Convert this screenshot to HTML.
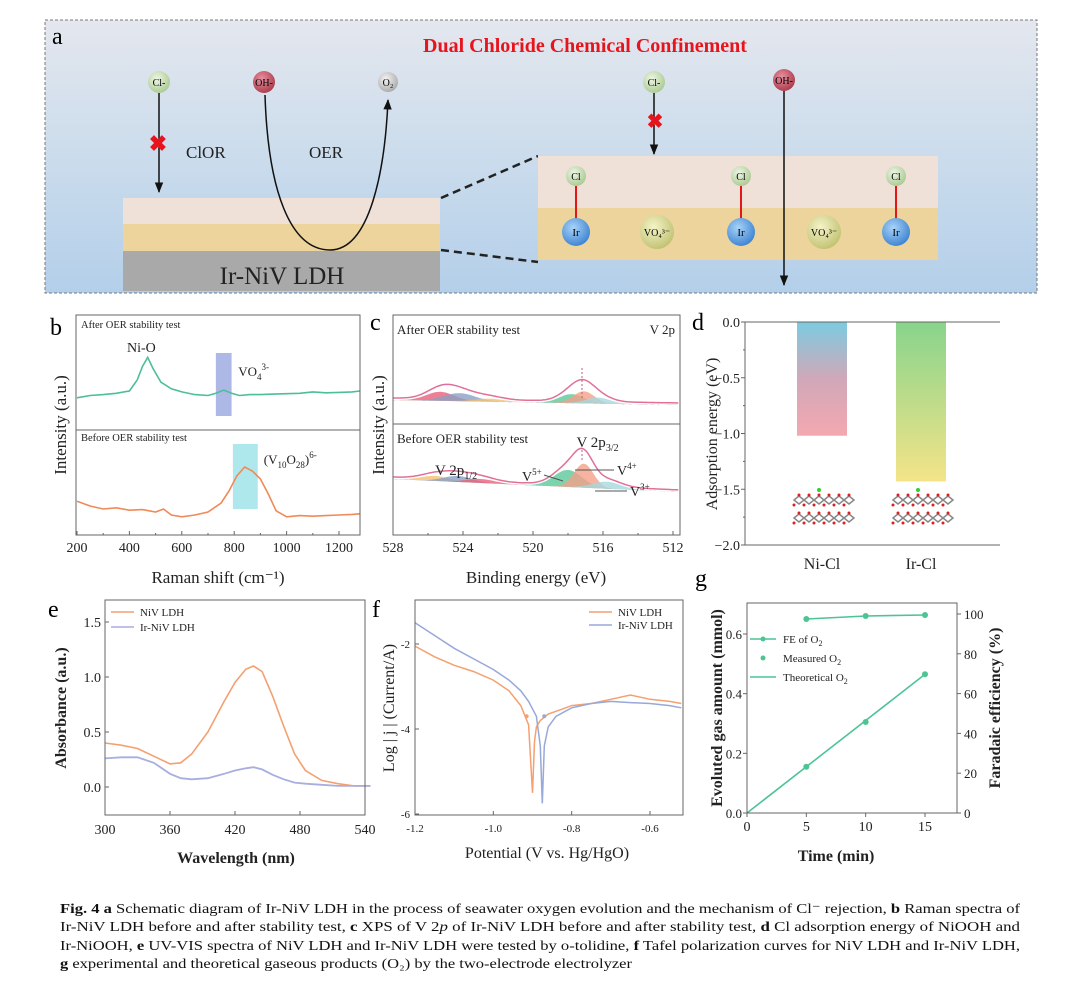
<!DOCTYPE html>
<html><head><meta charset="utf-8"><style>
html,body{margin:0;padding:0;background:#fff;}
svg{display:block;font-family:"Liberation Serif",serif;}
</style></head><body>
<svg id="fig" width="1080" height="981" viewBox="0 0 1080 981" xmlns="http://www.w3.org/2000/svg">
<defs>
<linearGradient id="bgA" x1="0" y1="0" x2="0" y2="1"><stop offset="0" stop-color="#e4e7ee"/><stop offset="0.5" stop-color="#cbdcec"/><stop offset="1" stop-color="#b4cfea"/></linearGradient>
<radialGradient id="gCl" cx="0.4" cy="0.35" r="0.7"><stop offset="0" stop-color="#eef6e4"/><stop offset="1" stop-color="#a8c890"/></radialGradient>
<radialGradient id="gOH" cx="0.4" cy="0.35" r="0.7"><stop offset="0" stop-color="#e890a0"/><stop offset="1" stop-color="#a83848"/></radialGradient>
<radialGradient id="gO2" cx="0.4" cy="0.35" r="0.7"><stop offset="0" stop-color="#f4f4f4"/><stop offset="1" stop-color="#a8a8a8"/></radialGradient>
<radialGradient id="gIr" cx="0.4" cy="0.35" r="0.7"><stop offset="0" stop-color="#a8d4f8"/><stop offset="1" stop-color="#3a80d0"/></radialGradient>
<radialGradient id="gVO" cx="0.4" cy="0.35" r="0.7"><stop offset="0" stop-color="#f4f4c8"/><stop offset="1" stop-color="#c0c070"/></radialGradient>
<linearGradient id="gNi" x1="0" y1="0" x2="0" y2="1"><stop offset="0" stop-color="#7ccbe0"/><stop offset="0.5" stop-color="#d0a8b8"/><stop offset="1" stop-color="#f4a8b0"/></linearGradient>
<linearGradient id="gIrB" x1="0" y1="0" x2="0" y2="1"><stop offset="0" stop-color="#88d48c"/><stop offset="1" stop-color="#f4e488"/></linearGradient>
<marker id="arr" viewBox="0 0 10 10" refX="9" refY="5" markerWidth="7" markerHeight="7" orient="auto"><path d="M0,1 L10,5 L0,9 z" fill="#111"/></marker>
</defs>

<!-- Panel a -->
<g>
<rect x="45" y="20" width="992" height="273" fill="url(#bgA)" stroke="#777" stroke-dasharray="3,2"/>
<text x="52" y="44" font-size="24">a</text>
<text x="585" y="52" font-size="20" font-weight="bold" fill="#e8141c" text-anchor="middle">Dual Chloride Chemical Confinement</text>
<rect x="123" y="198" width="317" height="26" fill="#efe0d8"/>
<rect x="123" y="224" width="317" height="27" fill="#ecd49c"/>
<rect x="123" y="251" width="317" height="40" fill="#a9a9a9"/>
<text x="282" y="284" font-size="25" text-anchor="middle" fill="#222">Ir-NiV LDH</text>
<line x1="159" y1="93" x2="159" y2="192" stroke="#111" stroke-width="1.5" marker-end="url(#arr)"/>
<text x="158" y="151" font-size="22" font-weight="bold" fill="#e8141c" text-anchor="middle">✖</text>
<text x="186" y="158" font-size="17" fill="#222">ClOR</text>
<path d="M265,95 C268,190 290,250 330,250 C370,250 385,170 388,100" fill="none" stroke="#111" stroke-width="1.5" marker-end="url(#arr)"/>
<text x="309" y="158" font-size="17" fill="#222">OER</text>
<circle cx="159" cy="82" r="11" fill="url(#gCl)"/><text x="159" y="86" font-size="10" text-anchor="middle">Cl-</text>
<circle cx="264" cy="82" r="11" fill="url(#gOH)"/><text x="264" y="86" font-size="10" text-anchor="middle">OH-</text>
<circle cx="388" cy="82" r="10" fill="url(#gO2)"/><text x="388" y="86" font-size="10" text-anchor="middle">O₂</text>
<line x1="441" y1="198" x2="538" y2="156" stroke="#222" stroke-width="2.5" stroke-dasharray="8,5"/>
<line x1="441" y1="250" x2="538" y2="262" stroke="#222" stroke-width="2.5" stroke-dasharray="8,5"/>
<rect x="538" y="156" width="400" height="52" fill="#efe0d8"/>
<rect x="538" y="208" width="400" height="52" fill="#ecd49c"/>
<g>
<line x1="576" y1="186" x2="576" y2="222" stroke="#e01818" stroke-width="2"/>
<line x1="741" y1="186" x2="741" y2="222" stroke="#e01818" stroke-width="2"/>
<line x1="896" y1="186" x2="896" y2="222" stroke="#e01818" stroke-width="2"/>
<circle cx="576" cy="176" r="10" fill="url(#gCl)"/><text x="576" y="180" font-size="10" text-anchor="middle">Cl</text>
<circle cx="741" cy="176" r="10" fill="url(#gCl)"/><text x="741" y="180" font-size="10" text-anchor="middle">Cl</text>
<circle cx="896" cy="176" r="10" fill="url(#gCl)"/><text x="896" y="180" font-size="10" text-anchor="middle">Cl</text>
<circle cx="576" cy="232" r="14" fill="url(#gIr)"/><text x="576" y="236" font-size="11" text-anchor="middle">Ir</text>
<circle cx="741" cy="232" r="14" fill="url(#gIr)"/><text x="741" y="236" font-size="11" text-anchor="middle">Ir</text>
<circle cx="896" cy="232" r="14" fill="url(#gIr)"/><text x="896" y="236" font-size="11" text-anchor="middle">Ir</text>
<circle cx="657" cy="232" r="17" fill="url(#gVO)"/><text x="657" y="236" font-size="10" text-anchor="middle">VO₄³⁻</text>
<circle cx="824" cy="232" r="17" fill="url(#gVO)"/><text x="824" y="236" font-size="10" text-anchor="middle">VO₄³⁻</text>
</g>
<circle cx="654" cy="82" r="11" fill="url(#gCl)"/><text x="654" y="86" font-size="10" text-anchor="middle">Cl-</text>
<line x1="654" y1="93" x2="654" y2="154" stroke="#111" stroke-width="1.5" marker-end="url(#arr)"/>
<text x="655" y="128" font-size="20" font-weight="bold" fill="#e8141c" text-anchor="middle">✖</text>
<circle cx="784" cy="80" r="11" fill="url(#gOH)"/><text x="784" y="84" font-size="10" text-anchor="middle">OH-</text>
<line x1="784" y1="91" x2="784" y2="285" stroke="#111" stroke-width="1.5" marker-end="url(#arr)"/>
</g>

<!-- static labels for chart panels -->
<g font-size="24">
<text x="50" y="335">b</text><text x="370" y="330">c</text><text x="692" y="330">d</text>
<text x="48" y="617">e</text><text x="372" y="617">f</text><text x="695" y="586">g</text>
</g>

<g id="charts"></g>

<!-- caption -->
<g font-size="13.5" fill="#111">
<text x="60" y="913" textLength="960" lengthAdjust="spacingAndGlyphs"><tspan font-weight="bold">Fig. 4  a</tspan> Schematic diagram of Ir-NiV LDH in the process of seawater oxygen evolution and the mechanism of Cl⁻ rejection, <tspan font-weight="bold">b</tspan> Raman spectra of</text>
<text x="60" y="931" textLength="960" lengthAdjust="spacingAndGlyphs">Ir-NiV LDH before and after stability test, <tspan font-weight="bold">c</tspan> XPS of V 2<tspan font-style="italic">p</tspan> of Ir-NiV LDH before and after stability test, <tspan font-weight="bold">d</tspan> Cl adsorption energy of NiOOH and</text>
<text x="60" y="950" textLength="960" lengthAdjust="spacingAndGlyphs">Ir-NiOOH, <tspan font-weight="bold">e</tspan> UV-VIS spectra of NiV LDH and Ir-NiV LDH were tested by o-tolidine, <tspan font-weight="bold">f</tspan> Tafel polarization curves for NiV LDH and Ir-NiV LDH,</text>
<text x="60" y="968" textLength="572" lengthAdjust="spacingAndGlyphs"><tspan font-weight="bold">g</tspan> experimental and theoretical gaseous products (O₂) by the two-electrode electrolyzer</text>
</g>
</svg>

<script>
// ---------- data ----------
const ramanX = [200,250,300,350,400,430,450,470,490,520,560,600,650,700,730,760,790,820,860,900,950,1000,1050,1100,1150,1200,1250,1280];
const ramanAfter = [0.05,0.1,0.12,0.15,0.2,0.45,0.75,0.95,0.7,0.4,0.25,0.18,0.12,0.1,0.15,0.22,0.15,0.1,0.12,0.12,0.13,0.14,0.15,0.18,0.16,0.17,0.18,0.2];
const ramanBX = [200,250,300,350,400,450,500,530,560,600,650,700,750,780,810,840,870,900,930,960,1000,1050,1100,1150,1200,1250,1280];
const ramanBefore = [0.28,0.2,0.15,0.17,0.13,0.14,0.1,0.15,0.05,0.02,0.05,0.1,0.25,0.45,0.7,0.85,0.78,0.65,0.4,0.12,0.02,0.04,0.03,0.04,0.05,0.06,0.07];
const ramanTicks = [200,400,600,800,1000,1200];

const xpsAfterCenters = [525.3,524.2,522.5,517.8,517.1,516.3];
const xpsAfterHeights = [9,8,3,9,12,6];
const xpsAfterWidths = [0.8,0.9,0.8,0.7,0.6,0.7];
const xpsBeforeCenters = [525.6,524.3,523.0,518.0,517.1,515.8];
const xpsBeforeHeights = [5,6,4,17,24,7];
const xpsBeforeWidths = [0.8,0.8,0.8,0.8,0.55,0.8];
const xpsColors = ['#e8607a','#8aa0c4','#f0c070','#5cc89a','#f4a088','#a8d8e0'];
const xpsBeforeColors = ['#f4c070','#8aa0c8','#e8607a','#5cc89a','#f4a088','#a8d8e0'];
const xpsTicks = [528,524,520,516,512];

const adsCategories = ['Ni-Cl','Ir-Cl'];
const adsValues = [-1.02,-1.43];
const adsTicks = [0.0,-0.5,-1.0,-1.5,-2.0];

const uvX = [300,315,330,345,360,370,380,395,410,420,430,437,445,455,465,475,485,500,515,530,545];
const uvNiV = [0.4,0.38,0.35,0.28,0.21,0.22,0.3,0.5,0.78,0.95,1.07,1.1,1.05,0.82,0.55,0.3,0.15,0.06,0.03,0.01,0.01];
const uvIrNiV = [0.26,0.27,0.27,0.22,0.12,0.08,0.07,0.08,0.12,0.15,0.17,0.18,0.16,0.11,0.07,0.04,0.03,0.02,0.01,0.01,0.01];
const uvXTicks = [300,360,420,480,540];
const uvYTicks = [0.0,0.5,1.0,1.5];

const tafelX = [-1.2,-1.15,-1.1,-1.05,-1.0,-0.96,-0.93,-0.91,-0.9,-0.895,-0.89,-0.88,-0.86,-0.83,-0.8,-0.75,-0.7,-0.65,-0.6,-0.55,-0.52];
const tafelNiV = [-2.05,-2.3,-2.5,-2.65,-2.85,-3.1,-3.45,-3.9,-5.5,-4.3,-3.95,-3.8,-3.65,-3.55,-3.45,-3.4,-3.3,-3.2,-3.3,-3.35,-3.4];
const tafelIrX = [-1.2,-1.15,-1.1,-1.05,-1.0,-0.96,-0.93,-0.91,-0.89,-0.88,-0.875,-0.87,-0.86,-0.84,-0.8,-0.75,-0.7,-0.65,-0.6,-0.55,-0.52];
const tafelIrNiV = [-1.5,-1.8,-2.1,-2.35,-2.6,-2.85,-3.1,-3.35,-3.7,-4.4,-5.75,-4.4,-3.95,-3.7,-3.5,-3.4,-3.35,-3.38,-3.4,-3.45,-3.5];
const tafelXTicks = [-1.2,-1.0,-0.8,-0.6];
const tafelYTicks = [-2,-4,-6];

const gasTime = [0,5,10,15];
const gasTheoretical = [0,0.155,0.31,0.465];
const gasMeasured = [0.155,0.305,0.465];
const gasMeasuredTime = [5,10,15];
const feTime = [5,10,15];
const feValues = [97.5,99,99.5];
const gasXTicks = [0,5,10,15];
const gasYTicks = [0.0,0.2,0.4,0.6];
const feYTicks = [0,20,40,60,80,100];

// ---------- helpers ----------
const NS='http://www.w3.org/2000/svg';
const root=document.getElementById('charts');
function mk(tag, attrs, parent){const e=document.createElementNS(NS,tag);for(const k in attrs)e.setAttribute(k,attrs[k]);(parent||root).appendChild(e);return e;}
function txt(x,y,s,size,anchor,parent){const t=mk('text',{x:x,y:y,'font-size':size,'text-anchor':anchor||'start',fill:'#222'},parent);t.textContent=s;return t;}
function lin(d0,d1,r0,r1){return v=>r0+(v-d0)/(d1-d0)*(r1-r0);}
function pathFrom(xs,ys,sx,sy){return xs.map((x,i)=>(i?'L':'M')+sx(x).toFixed(1)+','+sy(ys[i]).toFixed(1)).join(' ');}
function gauss(x,c,h,w){return h*Math.exp(-(x-c)*(x-c)/(2*w*w));}

// ---------- panel b ----------
(function(){
const g=mk('g',{});


const L=76,R=360,T=315,M=430,B=535;
const sx=lin(200,1200,77,339);
const syA=v=>400-v*45, syB=v=>518-v*60;
const vb=mk('rect',{x:sx(730),y:353,width:sx(790)-sx(730),height:63,fill:'#9aa6e0',opacity:0.8},g);


const cb=mk('rect',{x:sx(795),y:444,width:sx(890)-sx(795),height:65,fill:'#a0e4ea',opacity:0.85},g);


const pa=mk('path',{d:pathFrom(ramanX,ramanAfter,sx,syA),fill:'none',stroke:'#4cbf98','stroke-width':1.6},g);


const pb=mk('path',{d:pathFrom(ramanBX,ramanBefore,sx,syB),fill:'none',stroke:'#f08a58','stroke-width':1.6},g);


const fr=mk('rect',{x:L,y:T,width:R-L,height:B-T,fill:'none',stroke:'#666','stroke-width':1},g);


mk('line',{x1:L,y1:M,x2:R,y2:M,stroke:'#666'},g);
for(let v=200;v<=1280;v+=100){mk('line',{x1:sx(v),y1:B,x2:sx(v),y2:B-(v%200?2:4),stroke:'#666'},g);}
ramanTicks.forEach(v=>{const t=txt(sx(v),552,String(v),14,'middle',g);});
const xt=txt(218,583,'Raman shift (cm⁻¹)',17,'middle',g);


const yt=txt(0,0,'Intensity (a.u.)',17,'middle',g);yt.setAttribute('transform','translate(66,425) rotate(-90)');


txt(81,328,'After OER stability test',10.5,'start',g);
txt(81,441,'Before OER stability test',10.5,'start',g);
txt(127,352,'Ni-O',14,'start',g);
const vo=txt(763,0,'',0,'start',g);vo.remove();
const t1=mk('text',{x:sx(800)+4,y:376,'font-size':13,fill:'#222'},g);t1.innerHTML='VO<tspan dy="4" font-size="9">4</tspan><tspan dy="-10" font-size="9">3-</tspan>';
const t2=mk('text',{x:sx(890)+6,y:464,'font-size':13,fill:'#222'},g);t2.innerHTML='(V<tspan dy="4" font-size="9">10</tspan><tspan dy="-4">O</tspan><tspan dy="4" font-size="9">28</tspan><tspan dy="-4">)</tspan><tspan dy="-6" font-size="9">6-</tspan>';
})();

// ---------- panel c ----------
(function(){
const g=mk('g',{});


const L=393,R=680,T=315,M=424,B=535;
const sx=lin(528,512,393,673);
const xs=[];for(let x=528;x>=511.6;x-=0.1)xs.push(+x.toFixed(2));
function drawSet(C,H,W,cols,base0,base1,name){
  const base=x=>base0+(528-x)/16.4*(base1-base0);
  C.forEach((c,i)=>{
    const d='M'+xs.map(x=>sx(x).toFixed(1)+','+(base(x)-gauss(x,c,H[i],W[i])).toFixed(1)).join(' L')+' L'+sx(xs[xs.length-1])+','+base(xs[xs.length-1])+' L'+sx(xs[0])+','+base(xs[0])+'Z';
    const p=mk('path',{d:d,fill:cols[i],opacity:0.8},g);
    
    
  });
  const env=mk('path',{d:'M'+xs.map(x=>{let s=0;C.forEach((c,i)=>s+=gauss(x,c,H[i],W[i]));return sx(x).toFixed(1)+','+(base(x)-s*1.05-2).toFixed(1);}).join(' L'),fill:'none',stroke:'#e0709a','stroke-width':1.5},g);
  
  
}
drawSet(xpsAfterCenters,xpsAfterHeights,xpsAfterWidths,xpsColors,400,405,'xps-after');
drawSet(xpsBeforeCenters,xpsBeforeHeights,xpsBeforeWidths,xpsBeforeColors,479,492,'xps-before');
mk('line',{x1:sx(517.2),y1:368,x2:sx(517.2),y2:398,stroke:'#c06080','stroke-dasharray':'2,2'},g);
mk('line',{x1:sx(517.2),y1:450,x2:sx(517.2),y2:460,stroke:'#c06080','stroke-dasharray':'2,2'},g);
const fr=mk('rect',{x:L,y:T,width:R-L,height:B-T,fill:'none',stroke:'#666'},g);


mk('line',{x1:L,y1:M,x2:R,y2:M,stroke:'#666'},g);
for(let v=528;v>=512;v-=2){mk('line',{x1:sx(v),y1:B,x2:sx(v),y2:B-(v%4?2:4),stroke:'#666'},g);}
xpsTicks.forEach(v=>{const t=txt(sx(v),552,String(v),14,'middle',g);});
const xt=txt(536,583,'Binding energy (eV)',17,'middle',g);


const yt=txt(0,0,'Intensity (a.u.)',17,'middle',g);yt.setAttribute('transform','translate(384,425) rotate(-90)');


txt(397,334,'After OER stability test',13,'start',g);
txt(675,334,'V 2p',13,'end',g);
txt(397,443,'Before OER stability test',13,'start',g);
const a=mk('text',{x:sx(517.4)-2,y:447,'font-size':15,fill:'#222'},g);a.innerHTML='V 2p<tspan dy="4" font-size="10">3/2</tspan>';
const b=mk('text',{x:sx(525.6),y:475,'font-size':15,fill:'#222'},g);b.innerHTML='V 2p<tspan dy="4" font-size="10">1/2</tspan>';
const c5=mk('text',{x:522,y:481,'font-size':14,fill:'#222'},g);c5.innerHTML='V<tspan dy="-6" font-size="9">5+</tspan>';
const c4=mk('text',{x:617,y:475,'font-size':14,fill:'#222'},g);c4.innerHTML='V<tspan dy="-6" font-size="9">4+</tspan>';
const c3=mk('text',{x:630,y:496,'font-size':14,fill:'#222'},g);c3.innerHTML='V<tspan dy="-6" font-size="9">3+</tspan>';
mk('line',{x1:544,y1:475,x2:563,y2:481,stroke:'#555'},g);
mk('line',{x1:575,y1:470,x2:614,y2:470,stroke:'#555'},g);
mk('line',{x1:595,y1:491,x2:627,y2:491,stroke:'#555'},g);
})();

// ---------- panel d ----------
(function(){
const g=mk('g',{});


const L=745,R=1000,T=322,B=545;
const sy=lin(0,-2,T,B);
const cx=[822,921],bw=50;
const fills=['url(#gNi)','url(#gIrB)'];
adsValues.forEach((v,i)=>{
  const r=mk('rect',{x:cx[i]-bw/2,y:sy(0),width:bw,height:sy(v)-sy(0),fill:fills[i]},g);
  
  
  const t=txt(cx[i],569,adsCategories[i],16,'middle',g);
  
  
  // structure icon
  const s=mk('g',{},g);
  
  
  for(let row=0;row<2;row++)for(let k=0;k<6;k++){
    const x0=cx[i]-28+k*10,y0=500+row*18;
    mk('path',{d:`M${x0},${y0} l5,-4 l5,4 l-5,4z`,fill:'none',stroke:'#888','stroke-width':1.5},s);
    mk('circle',{cx:x0,cy:y0+5,r:1.5,fill:'#e02020'},s);
    mk('circle',{cx:x0+5,cy:y0-5,r:1.5,fill:'#e02020'},s);
  }
  mk('circle',{cx:cx[i]-3,cy:490,r:2,fill:'#30d030'},s);
});
const fr=mk('polyline',{points:`${R},${T} ${L},${T} ${L},${B} ${R},${B}`,fill:'none',stroke:'#666'},g);


for(let v=0;v>=-2;v-=0.25){mk('line',{x1:L,y1:sy(v),x2:L-(Math.abs(v*2)%1?2:4),y2:sy(v),stroke:'#666'},g);}
adsTicks.forEach(v=>{const t=txt(740,sy(v)+5,(v<0?'−':'')+Math.abs(v).toFixed(1),14,'end',g);});
const yt=txt(0,0,'Adsorption energy (eV)',16,'middle',g);yt.setAttribute('transform','translate(717,434) rotate(-90)');


})();

// ---------- panel e ----------
(function(){
const g=mk('g',{});


const L=105,R=365,T=600,B=815;
const sx=lin(300,540,105,365), sy=lin(0,1.5,787,622);
const p1=mk('path',{d:pathFrom(uvX,uvNiV,sx,sy),fill:'none',stroke:'#f4a070','stroke-width':1.6},g);


const p2=mk('path',{d:pathFrom(uvX,uvIrNiV,sx,sy),fill:'none',stroke:'#a8aee0','stroke-width':1.8},g);


const fr=mk('rect',{x:L,y:T,width:R-L,height:B-T,fill:'none',stroke:'#666'},g);


uvXTicks.forEach(v=>{mk('line',{x1:sx(v),y1:B,x2:sx(v),y2:B-4,stroke:'#666'},g);const t=txt(sx(v),834,String(v),14,'middle',g);});
uvYTicks.forEach(v=>{mk('line',{x1:L,y1:sy(v),x2:L+4,y2:sy(v),stroke:'#666'},g);const t=txt(101,sy(v)+5,v.toFixed(1),14,'end',g);});
const xt=txt(236,863,'Wavelength (nm)',16,'middle',g);xt.setAttribute('font-weight','bold');


const yt=txt(0,0,'Absorbance (a.u.)',16,'middle',g);yt.setAttribute('transform','translate(66,708) rotate(-90)');yt.setAttribute('font-weight','bold');


mk('line',{x1:111,y1:612,x2:134,y2:612,stroke:'#f4a070','stroke-width':1.6},g);
const l1=txt(140,616,'NiV LDH',11,'start',g);


mk('line',{x1:111,y1:627,x2:134,y2:627,stroke:'#a8aee0','stroke-width':1.6},g);
const l2=txt(140,631,'Ir-NiV LDH',11,'start',g);


})();

// ---------- panel f ----------
(function(){
const g=mk('g',{});


const L=415,R=683,T=600,B=815;
const sx=lin(-1.2,-0.6,415,650), sy=lin(-2,-6,644,814);
const p1=mk('path',{d:pathFrom(tafelX,tafelNiV,sx,sy),fill:'none',stroke:'#f4a070','stroke-width':1.5},g);


const p2=mk('path',{d:pathFrom(tafelIrX,tafelIrNiV,sx,sy),fill:'none',stroke:'#98a8d8','stroke-width':1.5},g);


mk('circle',{cx:sx(-0.915),cy:sy(-3.7),r:2,fill:'#f4a070'},g);
mk('circle',{cx:sx(-0.87),cy:sy(-3.7),r:2,fill:'#98a8d8'},g);
const fr=mk('rect',{x:L,y:T,width:R-L,height:B-T,fill:'none',stroke:'#666'},g);


tafelXTicks.forEach(v=>{mk('line',{x1:sx(v),y1:B,x2:sx(v),y2:B-4,stroke:'#666'},g);const t=txt(sx(v),832,v.toFixed(1),11,'middle',g);});
tafelYTicks.forEach(v=>{mk('line',{x1:L,y1:sy(v),x2:L+4,y2:sy(v),stroke:'#666'},g);const t=txt(410,sy(v)+4,String(v),11,'end',g);});
const xt=txt(547,858,'Potential (V vs. Hg/HgO)',16,'middle',g);


const yt=txt(0,0,'Log | j | (Current/A)',16,'middle',g);yt.setAttribute('transform','translate(394,708) rotate(-90)');


mk('line',{x1:589,y1:612,x2:612,y2:612,stroke:'#f4a070','stroke-width':1.6},g);
const l1=txt(618,616,'NiV LDH',11,'start',g);


mk('line',{x1:589,y1:625,x2:612,y2:625,stroke:'#98a8d8','stroke-width':1.6},g);
const l2=txt(618,629,'Ir-NiV LDH',11,'start',g);


})();

// ---------- panel g ----------
(function(){
const g=mk('g',{});


const L=747,R=957,T=603,B=813;
const sx=lin(0,15,747,925), sy=lin(0,0.6,813,634), sy2=lin(0,100,813,614);
const c='#4cc494';
const th=mk('path',{d:pathFrom(gasTime,gasTheoretical,sx,sy),fill:'none',stroke:c,'stroke-width':1.6},g);


gasMeasured.forEach((v,i)=>{const p=mk('circle',{cx:sx(gasMeasuredTime[i]),cy:sy(v),r:3,fill:c},g);

});
const fe=mk('path',{d:pathFrom(feTime,feValues,sx,sy2),fill:'none',stroke:c,'stroke-width':1.6},g);


feValues.forEach((v,i)=>{const p=mk('circle',{cx:sx(feTime[i]),cy:sy2(v),r:3,fill:c},g);

});
const fr=mk('rect',{x:L,y:T,width:R-L,height:B-T,fill:'none',stroke:'#666'},g);


gasXTicks.forEach(v=>{mk('line',{x1:sx(v),y1:B,x2:sx(v),y2:B+4,stroke:'#666'},g);const t=txt(sx(v),831,String(v),14,'middle',g);});
gasYTicks.forEach(v=>{mk('line',{x1:L,y1:sy(v),x2:L-4,y2:sy(v),stroke:'#666'},g);const t=txt(742,sy(v)+5,v.toFixed(1),13,'end',g);});
feYTicks.forEach(v=>{mk('line',{x1:R,y1:sy2(v),x2:R+4,y2:sy2(v),stroke:'#666'},g);const t=txt(964,sy2(v)+5,String(v),13,'start',g);});
const xt=txt(836,861,'Time (min)',16,'middle',g);xt.setAttribute('font-weight','bold');


const yt=txt(0,0,'Evoluted gas amount (mmol)',16,'middle',g);yt.setAttribute('transform','translate(722,708) rotate(-90)');yt.setAttribute('font-weight','bold');


const yt2=txt(0,0,'Faradaic efficiency (%)',16,'middle',g);yt2.setAttribute('transform','translate(1000,708) rotate(-90)');yt2.setAttribute('font-weight','bold');


mk('line',{x1:750,y1:639,x2:776,y2:639,stroke:c,'stroke-width':1.6},g);mk('circle',{cx:763,cy:639,r:2.5,fill:c},g);
const l1=mk('text',{x:783,y:643,'font-size':11,fill:'#222'},g);l1.innerHTML='FE of O<tspan dy="3" font-size="8">2</tspan>';


mk('circle',{cx:763,cy:658,r:2.5,fill:c},g);
const l2=mk('text',{x:783,y:662,'font-size':11,fill:'#222'},g);l2.innerHTML='Measured O<tspan dy="3" font-size="8">2</tspan>';


mk('line',{x1:750,y1:677,x2:776,y2:677,stroke:c,'stroke-width':1.6},g);
const l3=mk('text',{x:783,y:681,'font-size':11,fill:'#222'},g);l3.innerHTML='Theoretical O<tspan dy="3" font-size="8">2</tspan>';


})();
</script>
</body></html>
